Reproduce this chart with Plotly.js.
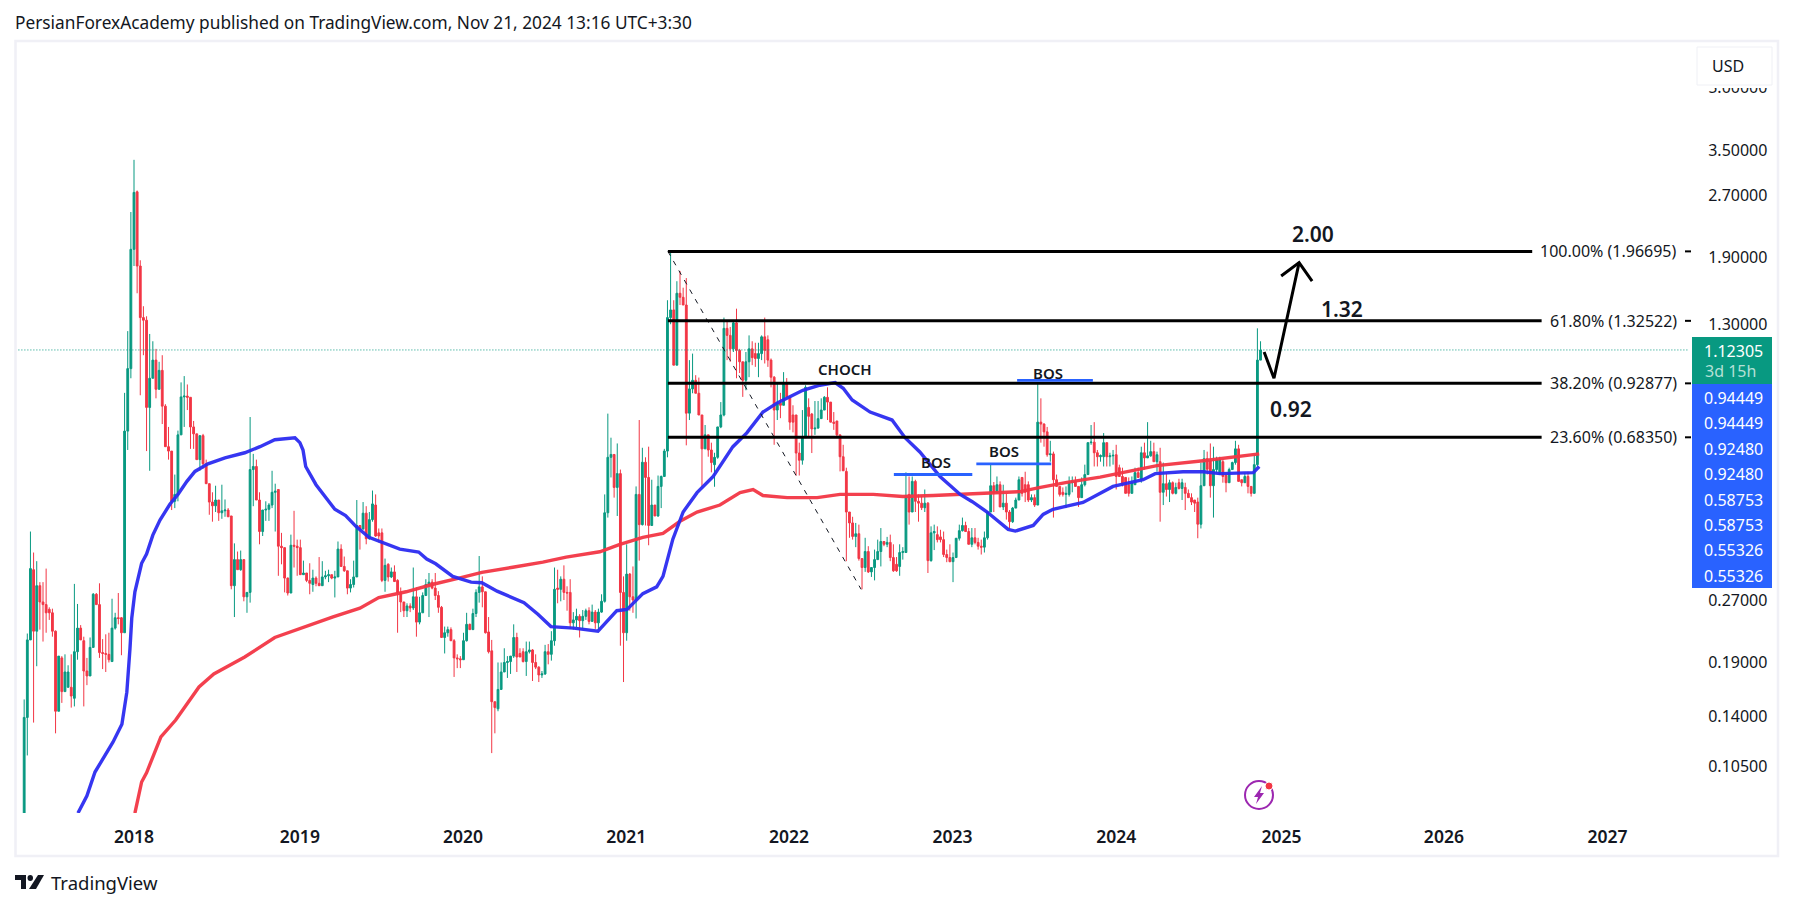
<!DOCTYPE html>
<html><head><meta charset="utf-8">
<script src="https://cdn.plot.ly/plotly-3.0.1.min.js"></script>
<style>html,body{margin:0;padding:0;background:#fff}#chart{width:1793px;height:909px}</style>
</head><body><div id="chart"></div>
<script>
// Weekly candles: each row is [open, high, low, close]
const candles2017=[[.05,.154,.05,.139],[.139,.224,.112,.216],[.216,.4,.216,.324],[.322,.355,.135,.227],[.227,.338,.186,.294],[.294,.3,.229,.268],[.268,.3,.214,.264],[.264,.324,.225,.252],[.257,.26,.242,.252],[.252,.258,.22,.227],[.227,.228,.127,.144],[.144,.197,.144,.197],[.195,.197,.151,.161],[.161,.199,.161,.18],[.165,.187,.165,.18],[.165,.199,.147,.157],[.155,.297,.148,.202],[.202,.265,.193,.231],[.231,.235,.216,.216],[.215,.22,.148,.181],[.181,.195,.167,.176],[.176,.219,.176,.207],[.207,.282,.207,.28],[.28,.282,.264,.264],[.264,.298,.195,.201],[.201,.217,.183,.2],[.2,.223,.18,.199],[.199,.225,.19,.193],[.191,.273,.191,.231],[.231,.252,.229,.245],[.245,.282,.236,.244],[.245,.246,.198,.225],[.225,.88,.225,.708],[.708,1.25,.636,1.01]];
const candles2018=[[1.01,2.46,.956,1.99],[1.99,3.31,1.81,2.75],[2.76,2.78,1.55,1.81],[1.81,1.87,.868,1.35],[1.35,1.44,1.09,1.33],[1.33,1.36,.632,.81],[.81,1.23,.565,.956],[.956,1.18,.956,1.06],[1.06,1.13,.853,.898],[.898,1.05,.898,1.0],[1.0,1.09,.737,.816],[.816,.825,.648,.648],[.648,.725,.602,.632],[.632,.632,.452,.475],[.475,.553,.457,.494],[.494,.71,.475,.693],[.693,.934,.693,.86],[.86,.968,.725,.864],[.864,.923,.798,.858],[.858,.858,.64,.725],[.725,.75,.64,.697],[.697,.697,.602,.602],[.602,.69,.565,.69],[.69,.697,.572,.588],[.588,.602,.525,.525],[.525,.525,.44,.473],[.473,.5,.423,.463],[.463,.519,.447,.4785],[.4785,.4785,.425,.445],[.445,.522,.43,.45],[.45,.48,.435,.452],[.452,.457,.435,.435],[.437,.437,.288,.294],[.294,.374,.246,.341],[.341,.357,.322,.322],[.322,.359,.32,.341],[.341,.341,.269,.276],[.276,.283,.252,.283],[.283,.767,.267,.569],[.569,.622,.462,.579],[.579,.602,.4785,.4785],[.4785,.5,.372,.4],[.4,.452,.39,.452],[.452,.475,.425,.454],[.454,.47,.425,.465],[.465,.565,.457,.5],[.5,.525,.4,.503],[.508,.508,.311,.368],[.368,.397,.332,.365],[.365,.365,.283,.307],[.307,.308,.278,.282],[.282,.393,.282,.37]];
const candles2019=[[.37,.45,.326,.368],[.368,.382,.311,.365],[.365,.382,.313,.313],[.313,.339,.313,.316],[.316,.316,.3,.303],[.303,.334,.28,.298],[.296,.322,.284,.307],[.307,.31,.293,.298],[.298,.346,.294,.294],[.294,.338,.294,.309],[.309,.32,.305,.311],[.311,.322,.3,.313],[.313,.313,.305,.307],[.307,.32,.275,.309],[.309,.378,.309,.362],[.362,.372,.328,.328],[.328,.347,.318,.32],[.32,.32,.28,.29],[.29,.305,.283,.296],[.296,.339,.291,.309],[.309,.4785,.309,.414],[.414,.414,.361,.406],[.406,.473,.404,.444],[.444,.462,.372,.384],[.384,.447,.382,.428],[.428,.505,.423,.468],[.465,.494,.388,.39],[.397,.407,.376,.39],[.397,.407,.3,.303],[.303,.343,.284,.33],[.332,.334,.301,.309],[.309,.326,.307,.318],[.318,.33,.301,.301],[.303,.305,.225,.283],[.283,.291,.253,.268],[.268,.268,.246,.255],[.255,.266,.246,.262],[.262,.266,.253,.259],[.259,.326,.256,.276],[.276,.291,.22,.239],[.239,.276,.236,.252],[.252,.283,.252,.278],[.278,.305,.278,.296],[.296,.316,.246,.3],[.3,.305,.288,.29],[.29,.316,.271,.278],[.278,.285,.252,.26],[.26,.262,.219,.219],[.219,.233,.2,.225],[.225,.233,.22,.229],[.229,.232,.215,.215],[.215,.217,.175,.195]];
const candles2020=[[.195,.199,.184,.194],[.194,.197,.184,.193],[.193,.225,.193,.215],[.215,.252,.214,.236],[.236,.237,.229,.229],[.229,.258,.229,.251],[.251,.288,.246,.283],[.283,.348,.267,.292],[.292,.31,.26,.284],[.284,.284,.224,.225],[.226,.246,.2,.202],[.203,.216,.1135,.152],[.152,.152,.127,.147],[.146,.19,.144,.163],[.163,.19,.163,.18],[.18,.206,.18,.19],[.19,.197,.174,.191],[.191,.197,.178,.197],[.197,.236,.195,.219],[.219,.225,.18,.196],[.2,.206,.196,.196],[.202,.206,.19,.191],[.191,.214,.176,.202],[.202,.214,.2,.204],[.204,.205,.171,.19],[.19,.199,.183,.185],[.185,.186,.17,.177],[.177,.181,.174,.178],[.178,.21,.177,.202],[.202,.211,.188,.199],[.199,.227,.192,.215],[.215,.326,.209,.288],[.29,.322,.266,.288],[.288,.31,.269,.305],[.305,.33,.271,.283],[.283,.293,.255,.282],[.283,.305,.23,.238],[.238,.253,.229,.242],[.242,.258,.232,.247],[.247,.25,.219,.241],[.241,.256,.23,.247],[.247,.258,.242,.255],[.255,.26,.236,.24],[.24,.264,.24,.253],[.253,.256,.23,.238],[.238,.258,.229,.253],[.253,.28,.252,.269],[.269,.494,.267,.445],[.445,.782,.433,.61],[.61,.682,.544,.62],[.62,.62,.485,.514],[.514,.66,.437,.556]];
const candles2021=[[.556,.569,.209,.283],[.283,.31,.17,.225],[.225,.372,.215,.314],[.314,.316,.255,.276],[.276,.328,.252,.271],[.271,.517,.244,.494],[.494,.754,.339,.416],[.416,.644,.414,.593],[.593,.61,.414,.544],[.544,.648,.37,.414],[.414,.537,.414,.465],[.465,.465,.437,.437],[.437,.55,.435,.517],[.517,.55,.457,.547],[.547,.64,.547,.632],[.632,1.49,.61,1.35],[1.35,1.96,1.3,1.41],[1.41,1.49,1.03,1.03],[1.03,1.66,1.03,1.55],[1.55,1.76,1.45,1.515],[1.515,1.6,1.45,1.45],[1.45,1.69,.653,.784],[.784,1.06,.754,.9],[.9,1.1,.878,.945],[.945,.973,.878,.878],[.878,.96,.776,.776],[.776,.776,.514,.64],[.64,.733,.64,.693],[.693,.693,.612,.636],[.636,.663,.56,.592],[.585,.626,.516,.61],[.61,.725,.605,.725],[.725,.835,.72,.776],[.776,1.35,.77,1.27],[1.27,1.32,1.06,1.22],[1.22,1.28,1.05,1.13],[1.13,1.32,1.11,1.31],[1.31,1.42,.956,1.12],[1.12,1.13,.985,1.05],[1.05,1.05,.86,.945],[.945,1.11,.893,1.05],[1.05,1.22,.962,1.13],[1.13,1.18,1.03,1.075],[1.1,1.17,1.02,1.07],[1.07,1.17,.962,1.1],[1.1,1.22,1.06,1.21],[1.21,1.35,1.04,1.12],[1.19,1.22,1.02,1.06],[1.06,1.07,.908,.962],[.962,.968,.655,.798],[.798,.93,.754,.83],[.83,.88,.762,.82]];
const candles2022=[[.82,.99,.82,.924],[.93,.957,.86,.86],[.86,.86,.713,.745],[.776,.82,.703,.745],[.776,.776,.55,.625],[.625,.663,.55,.6],[.6,.798,.585,.682],[.682,.919,.682,.908],[.81,.853,.682,.77],[.78,.785,.625,.717],[.717,.84,.693,.72],[.72,.84,.72,.76],[.76,.853,.76,.798],[.798,.864,.798,.858],[.858,.908,.754,.835],[.835,.835,.745,.745],[.745,.789,.713,.74],[.75,.75,.685,.693],[.693,.693,.563,.612],[.612,.655,.565,.565],[.563,.575,.338,.447],[.447,.447,.386,.42],[.42,.435,.382,.389],[.389,.42,.366,.395],[.395,.416,.339,.343],[.343,.343,.288,.326],[.326,.386,.318,.357],[.357,.368,.316,.318],[.318,.326,.309,.326],[.326,.361,.303,.341],[.341,.382,.341,.357],[.357,.408,.328,.378],[.378,.378,.368,.372],[.372,.388,.366,.376],[.376,.393,.338,.345],[.345,.372,.318,.32],[.332,.346,.318,.32],[.328,.372,.311,.355],[.355,.366,.341,.357],[.355,.56,.355,.491],[.494,.547,.416,.447],[.447,.547,.447,.532],[.532,.537,.447,.475],[.475,.494,.423,.47],[.47,.49,.452,.458],[.458,.508,.447,.47],[.47,.473,.316,.339],[.339,.412,.337,.397],[.397,.416,.36,.4],[.393,.412,.376,.382],[.388,.404,.376,.382],[.382,.4,.346,.351]];
const candles2023=[[.351,.361,.336,.345],[.345,.372,.336,.337],[.337,.355,.3,.345],[.345,.385,.345,.385],[.385,.416,.38,.402],[.402,.433,.4,.414],[.414,.423,.4,.4],[.4,.408,.372,.372],[.372,.408,.366,.386],[.386,.408,.372,.376],[.376,.386,.361,.368],[.368,.382,.351,.366],[.366,.4,.355,.386],[.386,.447,.382,.447],[.447,.585,.447,.519],[.519,.53,.447,.498],[.498,.547,.498,.522],[.522,.532,.46,.46],[.46,.522,.452,.47],[.47,.497,.428,.447],[.447,.452,.408,.423],[.423,.46,.42,.457],[.457,.485,.457,.4785],[.4785,.547,.4785,.537],[.544,.544,.488,.497],[.522,.562,.473,.5],[.522,.532,.473,.4785],[.4785,.494,.473,.485],[.485,.494,.46,.465],[.465,.933,.465,.745],[.745,.853,.663,.737],[.737,.74,.648,.705],[.705,.725,.612,.619],[.619,.67,.595,.622],[.622,.63,.433,.537],[.537,.553,.517,.517],[.517,.517,.488,.494],[.5,.514,.488,.494],[.494,.517,.457,.497],[.494,.547,.488,.528],[.528,.547,.5,.532],[.532,.547,.517,.517],[.517,.517,.46,.485],[.485,.544,.485,.522],[.522,.585,.517,.553],[.553,.663,.553,.663],[.663,.733,.655,.665],[.665,.745,.579,.626],[.626,.636,.579,.612],[.612,.62,.595,.616],[.612,.7,.579,.663],[.663,.663,.579,.612]];
const candles2024=[[.612,.626,.579,.615],[.615,.636,.585,.617],[.619,.655,.508,.547],[.575,.585,.547,.547],[.547,.575,.517,.522],[.544,.544,.497,.497],[.522,.544,.488,.497],[.497,.547,.497,.528],[.522,.575,.522,.559],[.559,.575,.544,.544],[.537,.648,.528,.626],[.626,.663,.569,.608],[.608,.745,.608,.615],[.615,.67,.612,.63],[.63,.663,.595,.595],[.595,.63,.562,.619],[.595,.644,.423,.5],[.5,.592,.465,.525],[.525,.559,.488,.508],[.508,.537,.473,.528],[.528,.532,.494,.497],[.497,.528,.494,.514],[.528,.54,.508,.511],[.511,.54,.4785,.528],[.514,.528,.452,.497],[.497,.508,.485,.485],[.485,.497,.465,.473],[.4785,.4785,.447,.47],[.473,.485,.385,.417],[.417,.592,.407,.519],[.519,.636,.519,.605],[.605,.63,.553,.57],[.598,.66,.485,.519],[.519,.648,.433,.569],[.569,.612,.559,.602],[.553,.612,.553,.602],[.595,.602,.528,.547],[.55,.559,.5,.528],[.528,.575,.528,.569],[.569,.595,.569,.592],[.592,.67,.585,.64],[.64,.655,.532,.532],[.537,.537,.517,.528],[.528,.559,.528,.547],[.547,.562,.497,.517],[.517,.517,.488,.497],[.497,.619,.497,.585],[.585,1.27,.58,1.06],[1.06,1.18,1.06,1.12305]];

// Moving averages: decimal year and price
const blueYears=[2017.658,2017.713,2017.762,2017.823,2017.872,2017.927,2017.957,2017.976,2017.988,2018.006,2018.049,2018.079,2018.116,2018.159,2018.22,2018.269,2018.324,2018.373,2018.452,2018.556,2018.678,2018.77,2018.861,2018.984,2019.014,2019.033,2019.051,2019.112,2019.191,2019.228,2019.295,2019.356,2019.436,2019.521,2019.625,2019.741,2019.79,2019.845,2019.949,2020.059,2020.126,2020.218,2020.383,2020.468,2020.548,2020.688,2020.835,2020.951,2021.012,2021.11,2021.195,2021.232,2021.257,2021.293,2021.354,2021.44,2021.538,2021.593,2021.66,2021.745,2021.843,2021.929,2022.087,2022.191,2022.283,2022.332,2022.387,2022.497,2022.631,2022.711,2022.802,2022.925,2023.047,2023.12,2023.212,2023.34,2023.383,2023.493,2023.554,2023.615,2023.737,2023.798,2023.981,2024.165,2024.238,2024.409,2024.531,2024.635,2024.837,2024.873];
const blueValues=[.0807,.089,.1019,.1122,.1208,.1337,.1605,.2055,.2445,.284,.334,.352,.392,.427,.467,.494,.532,.563,.588,.608,.626,.648,.674,.682,.663,.636,.579,.522,.474,.454,.438,.412,.387,.376,.362,.356,.342,.333,.31,.3,.299,.285,.267,.25,.233,.231,.227,.255,.257,.281,.292,.31,.336,.383,.447,.499,.547,.593,.648,.701,.789,.831,.893,.919,.933,.903,.845,.789,.754,.682,.629,.547,.494,.474,.447,.405,.401,.414,.441,.454,.467,.472,.517,.537,.556,.562,.562,.556,.559,.579];
const redYears=[2018.006,2018.049,2018.079,2018.165,2018.257,2018.397,2018.489,2018.678,2018.861,2019.026,2019.216,2019.381,2019.497,2019.662,2019.821,2019.986,2020.126,2020.316,2020.499,2020.64,2020.847,2020.969,2021.11,2021.232,2021.336,2021.44,2021.58,2021.703,2021.782,2021.843,2021.99,2022.173,2022.314,2022.515,2022.698,2022.882,2023.212,2023.413,2023.536,2023.7,2023.902,2024.043,2024.25,2024.531,2024.696,2024.873];
const redValues=[.0807,.0963,.1015,.1244,.137,.1653,.178,.196,.219,.2317,.2463,.2587,.2747,.284,.296,.307,.317,.3265,.336,.346,.3565,.372,.387,.396,.424,.447,.465,.499,.508,.491,.485,.485,.494,.494,.488,.491,.499,.502,.514,.529,.545,.559,.582,.598,.608,.622];

// Fibonacci levels and drawings
const fibLevels=[1.96695,1.32522,.92877,.6835];
const fibLabels=['100.00% (1.96695)','61.80% (1.32522)','38.20% (0.92877)','23.60% (0.68350)'];
const fibStartYear=2021.263, fibEndYears=[2026.542,2026.597,2026.597,2026.597];
const diagonalYears=[2021.263,2022.442], diagonalValues=[1.96695,.288];
const bosLevels=[.55326,.58753,.94449];
const bosStartYears=[2022.643,2023.145,2023.395], bosEndYears=[2023.12,2023.603,2023.859];
const arrowYears=[2024.904,2024.965,2025.118,null,2025.008,2025.118,2025.197];
const arrowValues=[1.11,.956,1.845,null,1.71,1.845,1.66];
const lastPrice=1.12305, priceLineEnd=2027.5;
const priceTicks=[5,3.5,2.7,1.9,1.3,.27,.19,.14,.105];
const priceTickText=['5.00000','3.50000','2.70000','1.90000','1.30000','0.27000','0.19000','0.14000','0.10500'];
const yearTicks=['2018-01-01','2019-01-06','2020-01-05','2021-01-03','2022-01-01','2023-01-01','2024-01-01','2025-01-04','2026-01-01','2027-01-01'];
const yearLabels=['2018','2019','2020','2021','2022','2023','2024','2025','2026','2027'];
const tagValues=['0.94449','0.94449','0.92480','0.92480','0.58753','0.58753','0.55326','0.55326'];

const rows=[...candles2017,...candles2018,...candles2019,...candles2020,...candles2021,...candles2022,...candles2023,...candles2024];
const WEEK=7*864e5, lastT=Date.UTC(2024,10,18);
const iso=t=>new Date(t).toISOString().slice(0,10);
const dates=rows.map((_,i)=>iso(lastT-(rows.length-1-i)*WEEK));
const yd=y=>y===null?null:iso(Date.UTC(2018,0,1)+(y-2018)*365.25*864e5);

const GREEN='#089981',RED='#F23645',BLUE='#2B2BF0',TAG='#2962FF',INK='#131722';
const L=17,R=1690,T=43,B=813;
const px=x=>(x-L)/(R-L), py=y=>(B-y)/(B-T);
const FONT='"Noto Sans", sans-serif';
const markFont=size=>({family:FONT,size,color:INK,weight:600});

const traces=[
 {type:'candlestick',x:dates,open:rows.map(r=>r[0]),high:rows.map(r=>r[1]),low:rows.map(r=>r[2]),close:rows.map(r=>r[3]),
  increasing:{line:{color:GREEN,width:1},fillcolor:GREEN},decreasing:{line:{color:RED,width:1},fillcolor:RED},hoverinfo:'skip',showlegend:false},
 {type:'scatter',mode:'lines',x:redYears.map(yd),y:redValues,line:{color:RED,width:3.4},opacity:.95,hoverinfo:'skip'},
 {type:'scatter',mode:'lines',x:blueYears.map(yd),y:blueValues,line:{color:BLUE,width:3.4},opacity:.95,hoverinfo:'skip'},
 {type:'scatter',mode:'lines',x:['2017-01-01',yd(priceLineEnd)],y:[lastPrice,lastPrice],line:{color:GREEN,width:1,dash:'1px,2px'},hoverinfo:'skip'},
 {type:'scatter',mode:'lines',x:diagonalYears.map(yd),y:diagonalValues,line:{color:'#131722',width:1,dash:'5px,6px'},hoverinfo:'skip'}
];
fibLevels.forEach((v,i)=>traces.push({type:'scatter',mode:'lines',x:[yd(fibStartYear),yd(fibEndYears[i])],y:[v,v],line:{color:'#000',width:3},hoverinfo:'skip'}));
bosLevels.forEach((v,i)=>traces.push({type:'scatter',mode:'lines',x:[yd(bosStartYears[i]),yd(bosEndYears[i])],y:[v,v],line:{color:TAG,width:2.8},hoverinfo:'skip'}));
traces.push({type:'scatter',mode:'lines',x:arrowYears.map(yd),y:arrowValues,connectgaps:false,line:{color:'#000',width:3},hoverinfo:'skip'});

const pt=(text,x,y,size,extra={})=>Object.assign({text,xref:'paper',yref:'paper',x:px(x),y:py(y),showarrow:false,xanchor:'center',yanchor:'middle',font:{family:FONT,size,color:INK}},extra);
const annotations=[
 pt('CHOCH',845,369,15,{font:markFont(15)}),
 pt('BOS',936,462,15,{font:markFont(15)}),
 pt('BOS',1004,451,15,{font:markFont(15)}),
 pt('BOS',1048,373,15,{font:markFont(15)}),
 pt('2.00',1313,234,21,{font:markFont(21)}),
 pt('1.32',1342,309,21,{font:markFont(21)}),
 pt('0.92',1291,409,21,{font:markFont(21)}),
 pt('USD',1710,66,16,{xanchor:'left'}),
 pt('1.12305',1765,351,16,{xanchor:'right',font:{family:FONT,size:16,color:'#fff'}}),
 pt('3d 15h',1758,371,16,{xanchor:'right',font:{family:FONT,size:16,color:'#B5E0D6'}}),
 pt('TradingView',49,883,18.5,{xanchor:'left'})
];
fibLevels.forEach((v,i)=>annotations.push({text:fibLabels[i],xref:'paper',yref:'y',x:px(1679),y:Math.log10(v),showarrow:false,xanchor:'right',yanchor:'middle',font:{family:FONT,size:16,color:INK}}));
tagValues.forEach((t,i)=>annotations.push(pt(t,1765,398+i*25.4,16,{xanchor:'right',font:{family:FONT,size:16,color:'#fff'}})));

const rect=(x0,y0,x1,y1,o)=>Object.assign({type:'rect',xref:'paper',yref:'paper',x0:px(x0),x1:px(x1),y0:py(y0),y1:py(y1),layer:'above'},o);
const path=(pts,o)=>Object.assign({type:'path',xref:'paper',yref:'paper',layer:'above',
   path:'M'+pts.map(p=>px(p[0])+','+py(p[1])).join('L')+'Z'},o);
const shapes=[
 rect(15.5,41,1778,856,{line:{color:'#F0F0F6',width:2.5}}),
 rect(1695,85,1774,88,{line:{width:0},fillcolor:'#fff'}),
 rect(1697,47,1772,85,{line:{color:'#EFF0F5',width:1},fillcolor:'#fff'}),
 rect(1692,337,1772,384,{line:{width:0},fillcolor:GREEN}),
 rect(1692,384,1772,588,{line:{width:0},fillcolor:TAG}),
 // fib label ticks
 ...fibLevels.map(v=>({type:'line',xref:'paper',yref:'y',x0:px(1685),x1:px(1691),y0:v,y1:v,line:{color:'#000',width:2},layer:'above'})),
 // TradingView mark
 path([[15,875],[26,875],[26,889],[21,889],[21,880],[15,880]],{fillcolor:INK,line:{width:0}}),
 {type:'circle',xref:'paper',yref:'paper',x0:px(27.5),x1:px(33),y0:py(875),y1:py(881),fillcolor:INK,line:{width:0},layer:'above'},
 path([[38,875],[44,875],[36,889],[29,889]],{fillcolor:INK,line:{width:0}}),
 // Lightning icon
 {type:'circle',xref:'paper',yref:'paper',x0:px(1245),x1:px(1273),y0:py(781),y1:py(809),line:{color:'#9C27B0',width:2},fillcolor:'#fff',layer:'above'},
 {type:'circle',xref:'paper',yref:'paper',x0:px(1265),x1:px(1273),y0:py(782),y1:py(790),fillcolor:'#F23645',line:{color:'#fff',width:1},layer:'above'},
 path([[1262,786],[1254,797],[1258,797],[1256,804],[1264,793],[1260,793]],{fillcolor:'#9C27B0',line:{width:0}})
];

const layout={
 width:1793,height:909,paper_bgcolor:'#fff',plot_bgcolor:'#fff',showlegend:false,dragmode:false,boxgap:.18,
 margin:{l:L,r:1793-R,t:T,b:909-B,pad:0},
 title:{text:'PersianForexAcademy published on TradingView.com, Nov 21, 2024 13:16 UTC+3:30',x:15/1793,xanchor:'left',xref:'container',y:1-23/909,yanchor:'middle',font:{family:FONT,size:17.3,color:INK}},
 xaxis:{type:'date',range:['2017-04-15','2027-07-04'],rangeslider:{visible:false},tickmode:'array',tickvals:yearTicks,ticktext:yearLabels,showgrid:false,zeroline:false,showline:false,ticks:'outside',ticklen:8,tickcolor:'rgba(0,0,0,0)',tickfont:{family:FONT,size:17.5,color:INK,weight:600}},
 yaxis:{type:'log',side:'right',range:[-1.0929,.8083],tickmode:'array',tickvals:priceTicks,ticktext:priceTickText,showgrid:false,zeroline:false,showline:false,ticks:'outside',ticklen:14,tickcolor:'rgba(0,0,0,0)',tickfont:{family:FONT,size:16,color:INK}},
 annotations,shapes
};
Plotly.newPlot('chart',traces,layout,{displayModeBar:false,staticPlot:true});
</script></body></html>
